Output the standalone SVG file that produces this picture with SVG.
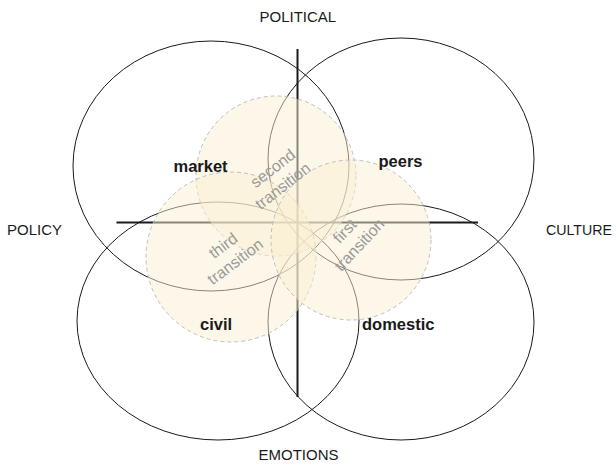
<svg xmlns="http://www.w3.org/2000/svg" width="616" height="465" viewBox="0 0 616 465">
<style>
.ring{fill:none;stroke:#1a1a1a;stroke-width:1}
.axis{stroke:#1a1a1a;stroke-width:2;fill:none}
.zone{fill:#f9efd2;fill-opacity:0.5;stroke:#b8b8b8;stroke-width:0.9;stroke-dasharray:4 3}
.dim{font-family:"Liberation Sans",Arial,sans-serif;font-size:16px;fill:#9a9a9a;text-anchor:middle}
.lab{font-family:"Liberation Sans",Arial,sans-serif;font-size:16.5px;font-weight:bold;fill:#1a1a1a}
.pole{font-family:"Liberation Sans",Arial,sans-serif;font-size:15px;fill:#1a1a1a}
</style>
<rect width="616" height="465" fill="#ffffff"/>
<g id="connectors">
<line class="axis" x1="297.5" y1="49" x2="297.5" y2="397"/>
<line class="axis" x1="116.5" y1="222.5" x2="478" y2="222.5"/>
</g>
<g id="market-ring"><ellipse class="ring" cx="211" cy="166" rx="138" ry="125"/></g>
<g id="peers-ring"><ellipse class="ring" cx="401" cy="159" rx="133" ry="121"/></g>
<g id="civil-ring"><ellipse class="ring" cx="218" cy="321" rx="141" ry="119"/></g>
<g id="domestic-ring"><ellipse class="ring" cx="401" cy="322" rx="133" ry="118"/></g>
<g id="second-transition">
<circle class="zone" cx="276" cy="176" r="80"/>
</g>
<g id="third-transition">
<circle class="zone" cx="231" cy="257" r="85"/>
</g>
<g id="first-transition">
<circle class="zone" cx="351" cy="240" r="80"/>
</g>
<g id="transition-labels">
<g transform="translate(278,177.5) rotate(-38)">
<text class="dim" x="1.5" y="-5">second</text>
<text class="dim" x="-1.5" y="15">transition</text>
</g>
<g transform="translate(229.5,254) rotate(-37)">
<text class="dim" x="0" y="-5">third</text>
<text class="dim" x="0" y="15">transition</text>
</g>
<g transform="translate(352.3,238.3) rotate(-47)">
<text class="dim" x="0" y="-5">first</text>
<text class="dim" x="0" y="15">transition</text>
</g>
</g>
<g id="market"><text class="lab" x="173.5" y="171.5">market</text></g>
<g id="peers"><text class="lab" x="378.5" y="166.5">peers</text></g>
<g id="civil"><text class="lab" x="200" y="330">civil</text></g>
<g id="domestic"><text class="lab" x="362" y="330">domestic</text></g>
<g id="poles">
<text class="pole" x="259.5" y="22">POLITICAL</text>
<text class="pole" x="7" y="235">POLICY</text>
<text class="pole" x="546" y="235" textLength="66" lengthAdjust="spacingAndGlyphs">CULTURE</text>
<text class="pole" x="258.5" y="460">EMOTIONS</text>
</g>
</svg>
